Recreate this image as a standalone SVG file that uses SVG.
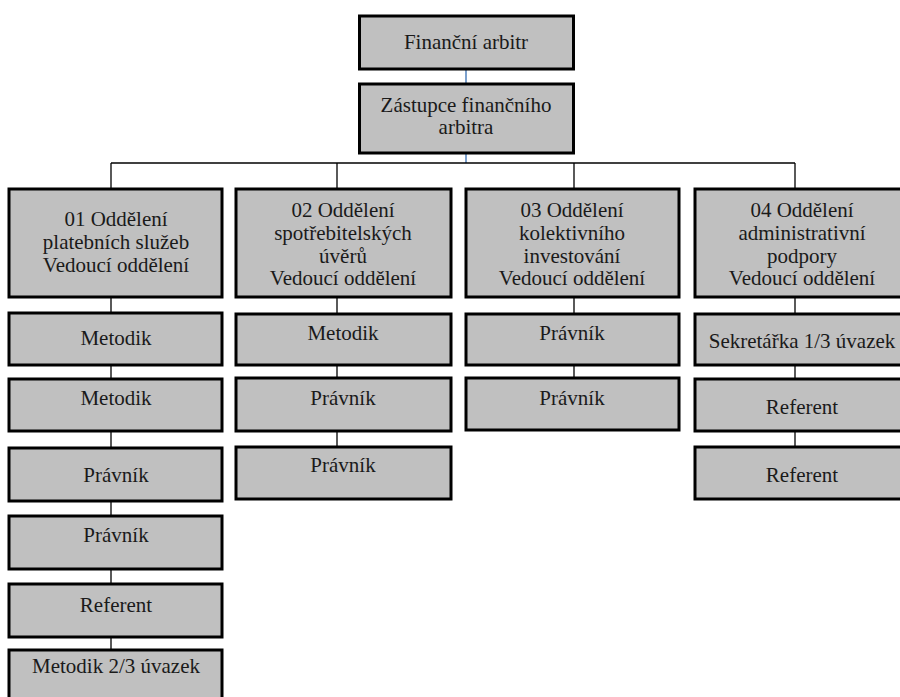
<svg xmlns="http://www.w3.org/2000/svg" width="900" height="697" viewBox="0 0 900 697">
<style>
.box{fill:#c0c0c0;stroke:#000;stroke-width:3}
.ln{stroke:#000;stroke-width:1.3;fill:none}
.bl{stroke:#4f81bd;stroke-width:1.5;fill:none}
text{font-family:'Liberation Serif','DejaVu Serif','Noto Serif',serif;font-size:21px;fill:#1a1a1a;text-anchor:middle}
</style>
<rect width="900" height="697" fill="#fff"/>
<g id="connectors">
<line class="bl" x1="466" y1="70" x2="466" y2="83"/>
<line class="bl" x1="466" y1="154" x2="466" y2="163"/>
<line class="ln" x1="111" y1="163" x2="795" y2="163"/>
<line class="ln" x1="111" y1="163" x2="111" y2="650"/>
<line class="ln" x1="337" y1="163" x2="337" y2="447"/>
<line class="ln" x1="574" y1="163" x2="574" y2="378"/>
<line class="ln" x1="795" y1="163" x2="795" y2="447"/>
</g>
<g id="n-arbitr"><rect class="box" x="359.5" y="16" width="214" height="53"/><text x="466" y="49">Finanční arbitr</text></g>
<g id="n-zastupce"><rect class="box" x="359.5" y="84" width="214" height="69"/><text x="466" y="112">Zástupce finančního</text><text x="466" y="134">arbitra</text></g>
<g id="n-odd01"><rect class="box" x="9" y="189" width="213" height="108"/><text x="116" y="226">01 Oddělení</text><text x="116" y="249">platebních služeb</text><text x="116" y="272">Vedoucí oddělení</text></g>
<g id="n-odd02"><rect class="box" x="236" y="189" width="215" height="108"/><text x="343" y="217">02 Oddělení</text><text x="343" y="240">spotřebitelských</text><text x="343" y="262.5">úvěrů</text><text x="343" y="285">Vedoucí oddělení</text></g>
<g id="n-odd03"><rect class="box" x="466" y="189" width="213" height="108"/><text x="572" y="217">03 Oddělení</text><text x="572" y="240">kolektivního</text><text x="572" y="262.5">investování</text><text x="572" y="285">Vedoucí oddělení</text></g>
<g id="n-odd04"><rect class="box" x="695" y="189" width="215" height="108"/><text x="802" y="217">04 Oddělení</text><text x="802" y="240">administrativní</text><text x="802" y="262.5">podpory</text><text x="802" y="285">Vedoucí oddělení</text></g>
<g id="n-c1-1"><rect class="box" x="9" y="313" width="213" height="52"/><text x="116" y="345">Metodik</text></g>
<g id="n-c1-2"><rect class="box" x="9" y="379" width="213" height="52"/><text x="116" y="405">Metodik</text></g>
<g id="n-c1-3"><rect class="box" x="9" y="448" width="213" height="53"/><text x="116" y="482">Právník</text></g>
<g id="n-c1-4"><rect class="box" x="9" y="516" width="213" height="53"/><text x="116" y="542">Právník</text></g>
<g id="n-c1-5"><rect class="box" x="9" y="584" width="213" height="53"/><text x="116" y="612">Referent</text></g>
<g id="n-c1-6"><rect class="box" x="9" y="650" width="213" height="60"/><text x="116" y="673">Metodik 2/3 úvazek</text></g>
<g id="n-c2-1"><rect class="box" x="236" y="314" width="215" height="51"/><text x="343" y="340">Metodik</text></g>
<g id="n-c2-2"><rect class="box" x="236" y="378" width="215" height="53"/><text x="343" y="405">Právník</text></g>
<g id="n-c2-3"><rect class="box" x="236" y="447" width="215" height="52"/><text x="343" y="472">Právník</text></g>
<g id="n-c3-1"><rect class="box" x="466" y="314" width="213" height="51"/><text x="572" y="340">Právník</text></g>
<g id="n-c3-2"><rect class="box" x="466" y="378" width="213" height="52"/><text x="572" y="405">Právník</text></g>
<g id="n-c4-1"><rect class="box" x="695" y="314" width="215" height="51"/><text x="802" y="348">Sekretářka 1/3 úvazek</text></g>
<g id="n-c4-2"><rect class="box" x="695" y="379" width="215" height="52"/><text x="802" y="414">Referent</text></g>
<g id="n-c4-3"><rect class="box" x="695" y="447" width="215" height="52"/><text x="802" y="482">Referent</text></g>
</svg>
